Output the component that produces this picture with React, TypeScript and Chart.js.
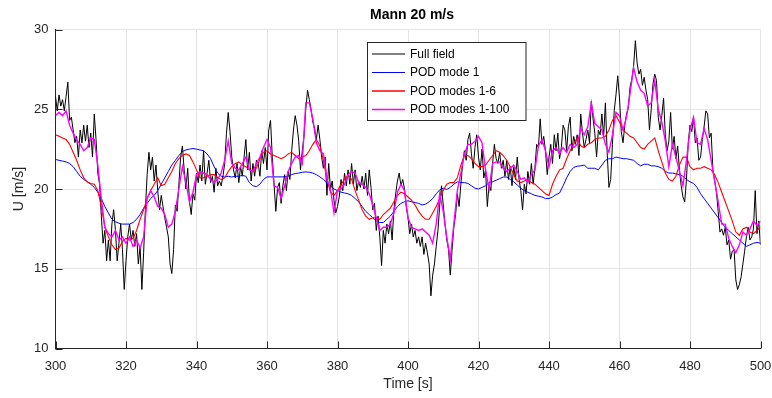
import React, { useEffect, useRef } from 'react';
import { Chart, registerables } from 'chart.js';

Chart.register(...registerables);

// ---- axis / tick data ----
const xTicks = [300, 320, 340, 360, 380, 400, 420, 440, 460, 480, 500];
const yTicks = [10, 15, 20, 25, 30];
const chartTitle = 'Mann 20 m/s';
const xTitle = 'Time [s]';
const yTitle = 'U [m/s]';
const seriesNames = ['Full field', 'POD mode 1', 'POD modes 1-6', 'POD modes 1-100'];
const seriesColors = ['#000000', '#0000ff', '#ff0000', '#ff00ff'];

// sample times: full field every 0.5 s, reconstructions every 1 s (300..500)
const timeFine = Array.from({ length: 401 }, (_, i) => 300 + i * 0.5);
const timeCoarse = Array.from({ length: 201 }, (_, i) => 300 + i);

// ---- series values (m/s) ----
const fullField = [
  25.8, 24.9, 25.9, 25.2, 25.6, 24.9, 25.8, 26.7, 24.3, 24.5, 23.7, 22.9, 23.3, 22.0, 23.7, 22.9, 24.0, 23.0, 24.0, 22.6,
  23.5, 22.0, 24.7, 23.1, 21.0, 20.3, 18.3, 16.6, 17.4, 15.5, 16.8, 15.5, 17.8, 18.7, 17.4, 15.5, 16.6, 17.8, 16.2, 13.7,
  15.5, 17.0, 17.8, 16.8, 17.4, 16.4, 17.2, 15.3, 16.4, 13.7, 16.0, 18.7, 20.9, 22.3, 21.2, 22.0, 20.5, 21.5, 19.9, 18.7,
  19.6, 18.9, 18.2, 17.6, 17.0, 15.3, 14.7, 16.2, 19.0, 18.6, 20.3, 22.0, 22.7, 21.2, 20.0, 21.3, 19.2, 18.4, 19.7, 19.3,
  21.0, 20.4, 21.5, 20.5, 22.4, 20.3, 21.0, 21.8, 20.4, 20.8, 19.8, 21.3, 20.2, 20.5, 20.2, 20.8, 21.6, 23.5, 24.8, 23.6,
  22.0, 21.2, 20.7, 21.6, 20.4, 21.4, 20.8, 22.0, 23.1, 21.2, 22.3, 20.5, 21.6, 20.8, 21.8, 21.6, 20.8, 22.4, 21.6, 22.6,
  21.2, 23.7, 24.3, 22.0, 20.3, 18.6, 20.1, 20.4, 19.1, 20.2, 20.9, 19.9, 21.1, 20.6, 22.4, 23.7, 24.6, 24.0, 23.0, 21.2,
  22.4, 23.3, 25.0, 26.2, 25.6, 25.0, 24.2, 23.8, 23.1, 24.0, 23.1, 22.0, 21.3, 22.0, 19.6, 21.6, 20.0, 20.5, 19.3, 18.5,
  18.9, 19.5, 20.6, 19.9, 21.0, 20.2, 21.2, 20.3, 21.6, 20.3, 21.2, 19.9, 20.5, 20.1, 20.8, 20.0, 21.0, 19.6, 21.2, 20.1,
  18.7, 19.1, 17.4, 18.3, 17.0, 15.2, 17.4, 16.6, 17.8, 17.2, 18.0, 16.8, 18.7, 19.7, 20.5, 21.0, 20.2, 20.6, 20.0, 18.9,
  18.2, 17.2, 17.8, 17.0, 17.4, 16.6, 17.0, 16.4, 17.0, 15.9, 16.6, 16.0, 15.3, 13.3, 14.6, 15.3, 16.4, 17.4, 19.0, 20.2,
  19.0, 17.8, 16.8, 16.2, 14.6, 16.2, 17.6, 18.4, 19.7, 18.9, 20.3, 21.6, 22.4, 21.8, 23.1, 23.5, 22.2, 21.3, 22.6, 23.4,
  22.0, 21.2, 22.5, 20.7, 21.2, 18.9, 20.3, 19.9, 21.6, 22.8, 21.9, 21.6, 22.3, 21.3, 21.8, 20.8, 21.8, 20.6, 21.4, 20.2,
  21.4, 20.6, 22.0, 20.6, 19.9, 18.7, 20.3, 19.7, 21.1, 20.3, 21.6, 20.3, 21.3, 22.8, 22.6, 24.4, 22.8, 23.3, 22.4, 20.9,
  22.0, 22.8, 21.6, 23.4, 22.4, 23.5, 21.9, 22.6, 24.0, 23.7, 22.4, 23.9, 24.5, 22.4, 23.3, 22.8, 23.4, 22.1, 24.7, 23.5,
  22.6, 23.1, 23.7, 22.9, 25.5, 24.4, 23.5, 22.0, 23.7, 23.4, 24.7, 23.3, 25.4, 22.3, 20.1, 20.6, 22.8, 24.9, 25.9, 27.1,
  25.7, 23.6, 22.9, 24.0, 24.7, 25.1, 26.4, 26.9, 27.7, 29.3, 27.9, 27.2, 27.5, 26.5, 27.0, 26.2, 25.6, 23.7, 25.0, 26.6,
  27.2, 26.8, 24.5, 23.7, 24.6, 25.7, 23.4, 22.4, 23.0, 24.8, 22.5, 23.3, 21.9, 22.7, 21.2, 20.2, 19.5, 19.2, 20.6, 22.9,
  24.0, 23.6, 24.5, 22.9, 23.2, 21.8, 22.0, 23.1, 23.9, 24.9, 24.7, 23.2, 23.5, 21.2, 20.5, 19.8, 18.6, 17.3, 17.5, 17.1,
  17.6, 16.5, 16.8, 15.6, 16.1, 16.2, 14.3, 13.7, 14.0, 14.5, 15.3, 16.1, 17.0, 17.6, 16.8, 17.0, 17.5, 19.9, 17.2, 18.0, 16.5,
];

const podMode1 = [
  21.85, 21.8, 21.75, 21.7, 21.6, 21.4, 21.1, 20.8, 20.6, 20.45,
  20.3, 20.1, 19.8, 19.4, 18.9, 18.5, 18.1, 17.95, 17.85, 17.8,
  17.8, 17.8, 17.9, 18.1, 18.4, 18.8, 19.1, 19.4, 19.6, 19.9,
  20.3, 20.7, 21.1, 21.5, 21.8, 22.1, 22.35, 22.45, 22.5, 22.54,
  22.5, 22.45, 22.4, 22.2, 21.9, 21.4, 21.0, 20.8, 20.75, 20.8,
  20.75, 20.8, 20.8, 20.85, 20.8, 20.4, 20.2, 20.15, 20.3, 20.6,
  20.76, 20.76, 20.76, 20.76, 20.76, 20.76, 20.8, 20.9, 20.97, 21.0,
  21.05, 21.07, 21.05, 21.0, 20.9, 20.76, 20.6, 20.4, 20.2, 20.0,
  19.9, 19.8, 19.75, 19.7, 19.6, 19.4, 19.2, 18.9, 18.6, 18.4,
  18.2, 18.0, 17.9, 17.9, 18.1, 18.3, 18.6, 18.9, 19.1, 19.2,
  19.26, 19.2, 19.15, 19.1, 19.0, 19.05, 19.2, 19.4, 19.7, 19.95,
  20.05, 19.97, 20.1, 20.3, 20.45, 20.4, 20.4, 20.35, 20.2, 20.05,
  20.0, 20.1, 20.2, 20.4, 20.45, 20.55, 20.65, 20.75, 20.75, 20.6,
  20.45, 20.25, 20.05, 19.9, 19.8, 19.7, 19.6, 19.55, 19.5, 19.4,
  19.4, 19.5, 19.65, 19.75, 20.2, 20.7, 21.1, 21.35, 21.43, 21.45,
  21.5, 21.3, 21.3, 21.3, 21.2, 21.5, 21.8, 21.9, 21.9, 22.0,
  21.95, 21.9, 21.9, 21.85, 21.8, 21.6, 21.45, 21.55, 21.55, 21.45,
  21.45, 21.4, 21.3, 21.1, 21.0, 21.0, 20.95, 20.9, 20.8, 20.6,
  20.45, 20.35, 20.1, 19.7, 19.4, 19.1, 18.8, 18.5, 18.2, 17.9,
  17.6, 17.4, 17.2, 17.0, 16.8, 16.6, 16.4, 16.5, 16.6, 16.65, 16.6,
];

const podModes1to6 = [
  23.4, 23.3, 23.2, 23.1, 22.8, 22.3, 21.8, 21.2, 20.7, 20.45,
  20.35, 20.3, 19.9, 18.9, 17.6, 17.0, 16.5, 16.2, 16.3, 16.7,
  16.9, 16.8, 16.9, 17.4, 18.1, 18.7, 19.4, 19.9, 20.3, 20.7,
  20.2, 20.3, 20.7, 21.1, 21.6, 21.9, 22.1, 22.2, 22.1, 21.7,
  21.2, 20.7, 20.7, 20.8, 20.9, 20.9, 20.7, 20.6, 20.7, 21.1,
  21.4, 21.6, 21.7, 21.5, 21.4, 21.2, 21.1, 21.3, 21.9, 22.3,
  22.4, 22.2, 22.1, 22.0, 21.9, 22.0, 22.2, 22.3, 22.1, 21.9,
  22.0, 22.1, 22.4, 22.8, 23.1, 22.7, 21.8, 20.6, 19.8, 19.6,
  19.9, 20.3, 20.6, 20.9, 20.6, 19.9, 19.3, 18.7, 18.3, 18.1,
  18.2, 18.2, 18.1, 18.4, 18.6, 18.8, 19.2, 19.6, 19.8, 19.7,
  19.5, 19.3, 19.0, 18.6, 18.3, 18.1, 18.1, 18.5, 18.9, 19.4,
  19.9, 20.3, 20.4, 20.4, 20.7, 21.5, 22.1, 22.1, 21.9, 21.6,
  21.4, 21.4, 21.5, 21.8, 22.1, 22.4, 22.3, 22.1, 21.8, 21.4,
  20.9, 20.5, 20.4, 20.5, 20.6, 20.4, 20.3, 20.1, 19.9, 19.7,
  19.6, 20.3, 20.8, 21.2, 21.3, 21.9, 22.4, 22.8, 23.2, 22.7,
  22.6, 22.8, 22.9, 23.1, 23.2, 23.2, 23.3, 23.7, 24.3, 24.6,
  24.2, 23.7, 23.5, 23.3, 23.2, 22.9, 22.6, 22.5, 22.8, 23.0,
  23.2, 22.4, 21.7, 21.0, 20.6, 20.5, 20.8, 21.5, 22.0, 22.0,
  21.4, 21.2, 21.3, 21.3, 21.4, 21.3, 21.2, 20.9, 20.4, 19.8,
  19.2, 18.6, 18.0, 17.3, 17.1, 17.5, 17.6, 17.3, 17.2, 17.4, 17.6,
];

const podModes1to100 = [
  24.6, 24.8, 24.6, 24.9, 24.0, 23.5, 23.1, 22.8, 22.4, 22.6,
  23.2, 23.1, 21.5, 19.4, 17.6, 17.2, 17.0, 17.4, 16.8, 17.0,
  16.6, 17.0, 16.4, 16.8, 16.3, 17.0, 19.4, 19.9, 19.5, 18.9,
  18.8, 18.4, 17.6, 17.8, 18.6, 20.0, 21.4, 20.4, 19.2, 19.8,
  20.9, 21.1, 21.0, 20.9, 20.6, 20.4, 20.6, 21.0, 21.8, 23.0,
  21.6, 21.3, 21.2, 21.6, 22.0, 21.2, 21.1, 21.6, 22.0, 22.6,
  23.1, 22.6, 20.2, 20.1, 19.4, 20.2, 21.1, 21.6, 22.0, 22.1,
  21.6, 25.4, 25.4, 24.4, 22.9, 22.4, 22.2, 20.6, 20.0, 18.5,
  19.9, 20.0, 20.3, 20.9, 21.1, 21.0, 20.4, 20.3, 20.1, 19.7,
  19.0, 18.2, 17.4, 17.6, 17.6, 17.8, 18.5, 19.8, 20.3, 19.9,
  18.2, 17.6, 17.5, 17.4, 17.5, 17.3, 17.1, 16.6, 17.8, 19.7,
  18.6, 17.0, 15.6, 17.8, 19.9, 21.0, 22.2, 22.8, 22.8, 23.0,
  23.3, 22.9, 21.2, 20.0, 21.6, 21.7, 21.7, 21.3, 21.1, 21.3,
  21.5, 21.1, 20.6, 20.7, 20.4, 20.9, 21.2, 22.7, 23.1, 22.4,
  21.4, 22.4, 22.6, 22.2, 22.6, 22.3, 22.8, 22.6, 22.8, 23.8,
  23.4, 23.9, 25.4, 24.1, 23.9, 23.7, 22.8, 22.3, 23.4, 24.8,
  24.6, 23.7, 24.5, 26.0, 27.6, 26.7, 26.2, 26.0, 25.2, 25.4,
  26.8, 25.0, 24.2, 23.0, 21.4, 22.8, 22.0, 21.1, 20.2, 21.8,
  23.7, 24.5, 22.9, 22.8, 23.8, 23.1, 21.8, 20.5, 19.2, 17.8,
  17.8, 16.9, 16.4, 16.0, 16.5, 17.3, 17.1, 17.5, 18.0, 17.7, 18.0,
];

const FONT = '"Liberation Sans", Arial, Helvetica, sans-serif';
const AXIS_COLOR = '#262626';

const overlayPlugin = {
  id: 'matlabOverlay',
  afterDraw(chart: any) {
    const { ctx, chartArea: a, scales } = chart;
    ctx.save();
    // inward tick marks
    ctx.strokeStyle = AXIS_COLOR;
    ctx.lineWidth = 1;
    ctx.beginPath();
    for (const v of xTicks) {
      const px = Math.round(scales.x.getPixelForValue(v)) + 0.5;
      ctx.moveTo(px, a.bottom);
      ctx.lineTo(px, a.bottom - 7);
    }
    for (const v of yTicks) {
      const py = Math.round(scales.y.getPixelForValue(v)) + 0.5;
      ctx.moveTo(a.left, py);
      ctx.lineTo(a.left + 7, py);
    }
    ctx.stroke();

    // title
    ctx.fillStyle = '#000';
    ctx.font = `bold 14px ${FONT}`;
    ctx.textAlign = 'center';
    ctx.textBaseline = 'middle';
    ctx.fillText(chartTitle, (a.left + a.right) / 2 + 4, 15);

    // legend box
    const bx = 367.5, by = 42.5, bw = 158.5, bh = 78;
    ctx.fillStyle = '#fff';
    ctx.fillRect(bx, by, bw, bh);
    ctx.strokeStyle = AXIS_COLOR;
    ctx.lineWidth = 1;
    ctx.strokeRect(bx, by, bw, bh);
    const rows = [54, 72.5, 91, 109.5];
    ctx.font = `12px ${FONT}`;
    ctx.textAlign = 'left';
    seriesNames.forEach((name, i) => {
      ctx.strokeStyle = seriesColors[i];
      ctx.lineWidth = i === 3 ? 1.6 : i === 2 ? 1.3 : 1;
      ctx.beginPath();
      ctx.moveTo(372, rows[i]);
      ctx.lineTo(405, rows[i]);
      ctx.stroke();
      ctx.fillStyle = '#000';
      ctx.fillText(name, 410, rows[i] + 0.5);
    });
    ctx.restore();
  },
};

export default function App() {
  const canvasRef = useRef<HTMLCanvasElement | null>(null);

  useEffect(() => {
    const canvas = canvasRef.current;
    if (!canvas) return;
    const mk = (ts: number[], vs: number[]) => vs.map((y, i) => ({ x: ts[i], y }));
    const chart = new Chart(canvas, {
      type: 'line',
      data: {
        datasets: [
          {
            label: seriesNames[0],
            data: mk(timeFine, fullField),
            borderColor: seriesColors[0],
            borderWidth: 1,
            pointRadius: 0,
            tension: 0,
            order: 4,
          },
          {
            label: seriesNames[1],
            data: mk(timeCoarse, podMode1),
            borderColor: seriesColors[1],
            borderWidth: 1,
            pointRadius: 0,
            tension: 0,
            order: 3,
          },
          {
            label: seriesNames[2],
            data: mk(timeCoarse, podModes1to6),
            borderColor: seriesColors[2],
            borderWidth: 1.1,
            pointRadius: 0,
            tension: 0,
            order: 2,
          },
          {
            label: seriesNames[3],
            data: mk(timeCoarse, podModes1to100),
            borderColor: seriesColors[3],
            borderWidth: 1.4,
            pointRadius: 0,
            tension: 0,
            order: 1,
          },
        ],
      },
      options: {
        animation: false,
        responsive: false,
        devicePixelRatio: 1,
        layout: { padding: { left: 0, right: 11.5, top: 29.5, bottom: 0 } },
        plugins: {
          legend: { display: false },
          title: { display: false },
          tooltip: { enabled: false },
        },
        scales: {
          x: {
            type: 'linear',
            min: 300,
            max: 500,
            afterBuildTicks: (scale: any) => {
              scale.ticks = xTicks.map((v) => ({ value: v }));
            },
            afterFit: (scale: any) => {
              scale.height = 49.5;
              scale.paddingLeft = 0;
              scale.paddingRight = 0;
            },
            ticks: {
              color: AXIS_COLOR,
              font: { family: FONT, size: 13 },
              padding: 10,
              maxRotation: 0,
              autoSkip: false,
            },
            grid: { color: '#e4e4e4', lineWidth: 1, drawTicks: false },
            border: { display: true, color: AXIS_COLOR, width: 1 },
            title: {
              display: true,
              text: xTitle,
              color: AXIS_COLOR,
              font: { family: FONT, size: 14 },
              padding: { top: 0, bottom: 5 },
            },
          },
          y: {
            type: 'linear',
            min: 10,
            max: 30,
            afterBuildTicks: (scale: any) => {
              scale.ticks = yTicks.map((v) => ({ value: v }));
            },
            afterFit: (scale: any) => {
              scale.width = 55.5;
              scale.paddingTop = 0;
              scale.paddingBottom = 0;
            },
            ticks: {
              color: AXIS_COLOR,
              font: { family: FONT, size: 13 },
              padding: 7,
            },
            grid: { color: '#e4e4e4', lineWidth: 1, drawTicks: false },
            border: { display: true, color: AXIS_COLOR, width: 1 },
            title: {
              display: true,
              text: yTitle,
              color: AXIS_COLOR,
              font: { family: FONT, size: 14 },
              padding: { top: 11, bottom: 0 },
            },
          },
        },
      },
      plugins: [overlayPlugin],
    } as any);
    return () => chart.destroy();
  }, []);

  return (
    <div style={{ position: 'absolute', left: 0, top: 0, width: 772, height: 398, background: '#fff' }}>
      <canvas ref={canvasRef} width={772} height={398} />
    </div>
  );
}
